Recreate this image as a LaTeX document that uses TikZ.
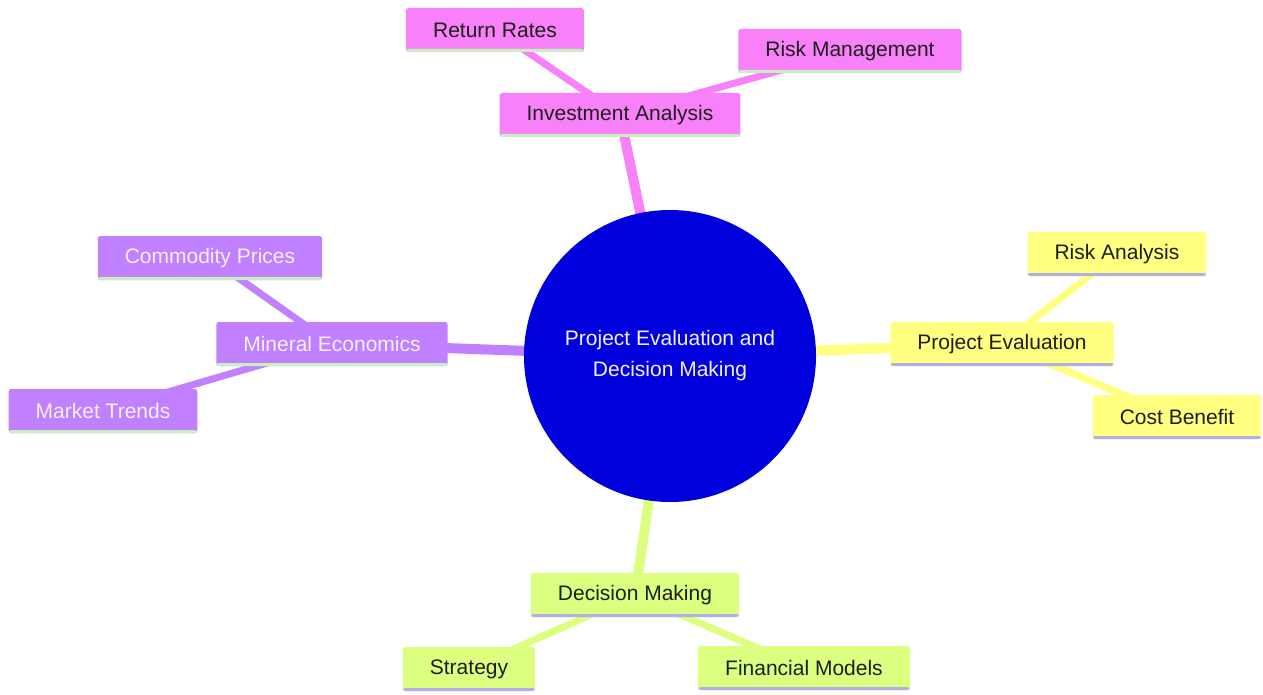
\documentclass[tikz,border=0pt]{standalone}
\usepackage{fontspec}
\setmainfont{Liberation Sans}
\pgfdeclarelayer{bg}
\pgfsetlayers{bg,main}
\definecolor{cpink}{RGB}{248,128,248}
\definecolor{cpurple}{RGB}{192,128,255}
\definecolor{cyellow}{RGB}{255,255,128}
\definecolor{cgreen}{RGB}{220,255,128}
\definecolor{ulgreen}{RGB}{200,240,190}
\definecolor{ullav}{RGB}{176,176,230}
\definecolor{cblue}{RGB}{0,0,220}
\definecolor{ctext}{RGB}{30,30,30}
\definecolor{cwhite}{RGB}{244,240,255}
\tikzset{
  box/.style={rectangle, rounded corners=2.5pt, minimum height=44pt, inner xsep=27pt, inner ysep=0pt,
    font=\fontsize{21}{24}\selectfont, text=ctext},
  ul/.style={path picture={\fill[#1] ([yshift=3pt]path picture bounding box.south west) rectangle (path picture bounding box.south east);}},
  pinkbox/.style={box, fill=cpink, ul=ulgreen},
  purplebox/.style={box, fill=cpurple, ul=ulgreen, text=cwhite},
  yellowbox/.style={box, fill=cyellow, ul=ullav},
  greenbox/.style={box, fill=cgreen, ul=ullav},
  mainedge/.style={line width=10pt},
  subedge/.style={line width=7pt},
}
\begin{document}
\begin{tikzpicture}[x=1pt,y=-1pt]
\useasboundingbox (0,0) rectangle (1263,695);
\node[circle, fill=cblue, minimum size=292pt, inner sep=0pt, text=cwhite, align=center,
  font=\fontsize{21}{31}\selectfont] (root) at (670,356) {Project Evaluation and\\Decision Making};
\node[pinkbox] (inv) at (620,115) {Investment Analysis};
\node[pinkbox] (ret) at (495,30) {Return Rates};
\node[pinkbox] (riskm) at (850,51) {Risk Management};
\node[purplebox] (min) at (332,344) {Mineral Economics};
\node[purplebox] (comm) at (210,258) {Commodity Prices};
\node[purplebox] (mkt) at (103,411) {Market Trends};
\node[yellowbox] (peval) at (1002,344) {Project Evaluation};
\node[yellowbox] (riska) at (1117,254) {Risk Analysis};
\node[yellowbox] (cost) at (1177,417) {Cost Benefit};
\node[greenbox] (dec) at (635,595) {Decision Making};
\node[greenbox] (strat) at (469,669) {Strategy};
\node[greenbox] (fin) at (804,668) {Financial Models};
\begin{pgfonlayer}{bg}
\draw[mainedge, cpink] (root.center) -- (inv.center);
\draw[subedge, cpink] (inv.center) -- (ret.center);
\draw[subedge, cpink] (inv.center) -- (riskm.center);
\draw[mainedge, cpurple] (root.center) -- (min.center);
\draw[subedge, cpurple] (min.center) -- (comm.center);
\draw[subedge, cpurple] (min.center) -- (mkt.center);
\draw[mainedge, cyellow] (root.center) -- (peval.center);
\draw[subedge, cyellow] (peval.center) -- (riska.center);
\draw[subedge, cyellow] (peval.center) -- (cost.center);
\draw[mainedge, cgreen] (root.center) -- (dec.center);
\draw[subedge, cgreen] (dec.center) -- (strat.center);
\draw[subedge, cgreen] (dec.center) -- (fin.center);
\end{pgfonlayer}
\end{tikzpicture}
\end{document}
